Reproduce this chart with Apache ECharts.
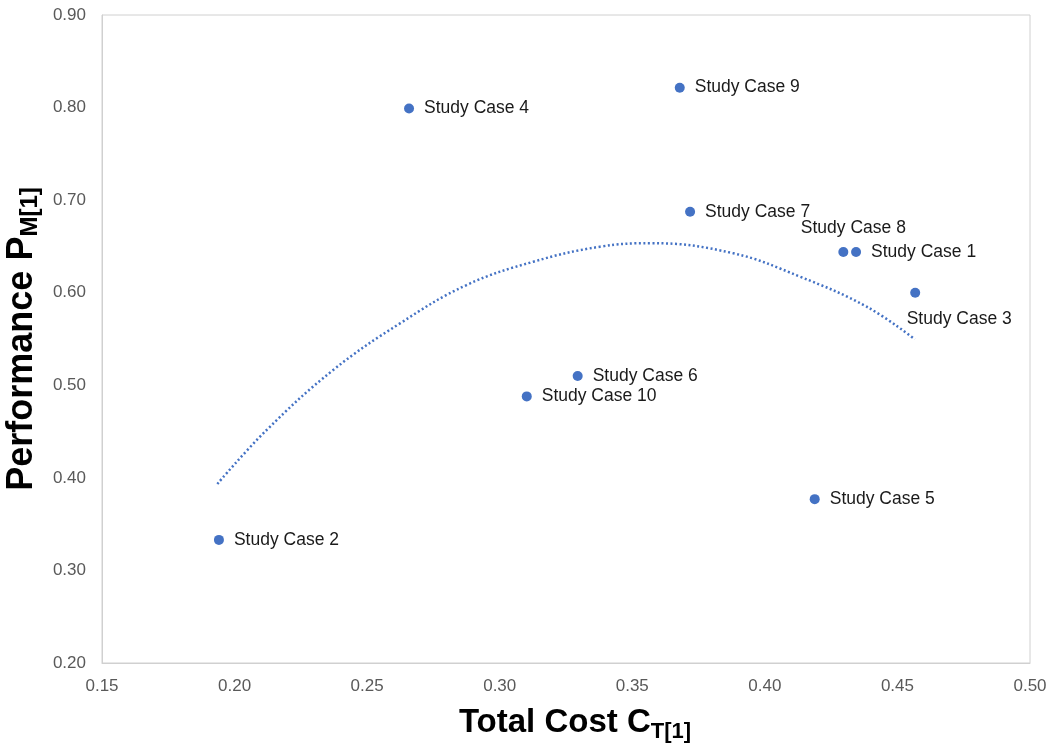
<!DOCTYPE html>
<html>
<head>
<meta charset="utf-8">
<script src="https://cdn.jsdelivr.net/npm/echarts@6/dist/echarts.min.js"></script>
<style>html,body{margin:0;padding:0;background:#fff}#c{width:1053px;height:750px}</style>
</head>
<body>
<div id="c"></div>
<script>
// Data
const caseNames = ['Study Case 1','Study Case 2','Study Case 3','Study Case 4','Study Case 5','Study Case 6','Study Case 7','Study Case 8','Study Case 9','Study Case 10'];
const totalCost = [0.4344, 0.1941, 0.4567, 0.2658, 0.4188, 0.3294, 0.3718, 0.4296, 0.3679, 0.3102];
const performance = [0.644, 0.333, 0.600, 0.799, 0.377, 0.510, 0.6875, 0.644, 0.8215, 0.488];
// Trendline (polynomial, order 2)
const trendX = [0.1935, 0.2121, 0.2372, 0.2624, 0.2875, 0.3127, 0.3378, 0.3570, 0.3881, 0.4133, 0.4384, 0.4566];
const trendY = [0.3934, 0.4517, 0.5165, 0.5669, 0.6083, 0.6335, 0.6497, 0.6535, 0.6426, 0.6173, 0.5849, 0.5497];
const xTicks = {min: 0.15, max: 0.50, step: 0.05};
const yTicks = {min: 0.20, max: 0.90, step: 0.10};

// Label placement (style only)
const labelPlacement = {
  'Study Case 8': {position: 'top', offset: [10, 0]},
  'Study Case 3': {position: 'bottom', offset: [44, 2]}
};

const FONT = '"Liberation Sans", Arial, sans-serif';
const pointData = caseNames.map((n, i) => {
  const p = labelPlacement[n] || {position: 'right', offset: [0, 0]};
  return {
    name: n,
    value: [totalCost[i], performance[i]],
    label: {show: true, position: p.position, offset: p.offset, distance: 10}
  };
});

const chart = echarts.init(document.getElementById('c'), null, {renderer: 'canvas'});
chart.setOption({
  animation: false,
  grid: {left: 102, right: 23, top: 15, bottom: 87, show: true, borderColor: '#d0d0d0', borderWidth: 1, containLabel: false, outerBoundsMode: 'none'},
  xAxis: {
    type: 'value', min: xTicks.min, max: xTicks.max, interval: xTicks.step,
    splitLine: {show: false}, axisTick: {show: false},
    axisLine: {show: true, lineStyle: {color: '#d0d0d0'}},
    axisLabel: {color: '#595959', fontSize: 17, fontFamily: FONT, margin: 15, formatter: v => v.toFixed(2)},
    name: '{m|Total Cost C}{s|T[1]}', nameLocation: 'middle', nameGap: 40,
    nameTextStyle: {
      rich: {
        m: {fontSize: 33, fontWeight: 'bold', fontFamily: FONT, color: '#000', lineHeight: 40, verticalAlign: 'middle', padding: [0, 0, 0, 18]},
        s: {fontSize: 22, fontWeight: 'bold', fontFamily: FONT, color: '#000', lineHeight: 10, verticalAlign: 'bottom'}
      }
    }
  },
  yAxis: {
    type: 'value', min: yTicks.min, max: yTicks.max, interval: yTicks.step,
    splitLine: {show: false}, axisTick: {show: false},
    axisLine: {show: true, lineStyle: {color: '#d0d0d0'}},
    axisLabel: {color: '#595959', fontSize: 17, fontFamily: FONT, margin: 16, formatter: v => v.toFixed(2)},
    name: '{m|Performance P}{s|M[1]}', nameLocation: 'middle', nameGap: 46, nameRotate: 90,
    nameTextStyle: {
      rich: {
        m: {fontSize: 36, fontWeight: 'bold', fontFamily: FONT, color: '#000', lineHeight: 40, verticalAlign: 'middle'},
        s: {fontSize: 24, fontWeight: 'bold', fontFamily: FONT, color: '#000', lineHeight: 10, verticalAlign: 'bottom'}
      }
    }
  },
  series: [
    {
      type: 'line', smooth: 0.4, symbol: 'none', silent: true,
      data: trendX.map((x, i) => [x, trendY[i]]),
      lineStyle: {color: '#4472C4', width: 2.5, type: [2, 2.5], cap: 'butt'},
      z: 1
    },
    {
      type: 'scatter', symbol: 'circle', symbolSize: 10,
      itemStyle: {color: '#4472C4', opacity: 1},
      label: {formatter: '{b}', color: '#1a1a1a', fontSize: 17.5, fontFamily: FONT},
      data: pointData,
      z: 2
    }
  ]
});
</script>
</body>
</html>
